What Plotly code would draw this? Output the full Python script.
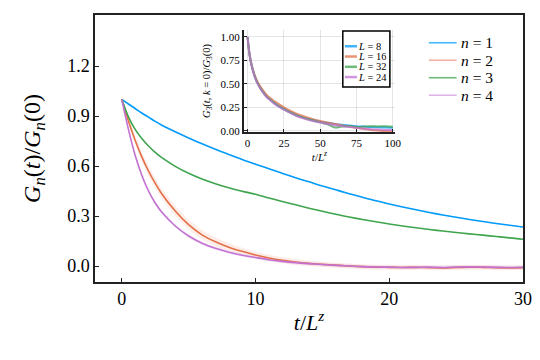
import plotly.graph_objects as go

# main panel: G_n(t)/G_n(0) vs t/L^z
t_main = [0, 0.5, 1, 1.5, 2, 2.5, 3, 4, 5, 6, 7, 8, 9, 10, 11, 12, 13, 14, 15,
          16, 17, 18, 19, 20, 21, 22, 23, 24, 25, 26, 27, 28, 29, 30]
g_n1 = [1.0, 0.972, 0.945, 0.918, 0.893, 0.868, 0.845, 0.805, 0.768, 0.733, 0.700,
        0.669, 0.639, 0.611, 0.584, 0.557, 0.530, 0.505, 0.480, 0.457, 0.434, 0.412,
        0.391, 0.372, 0.354, 0.337, 0.321, 0.306, 0.292, 0.279, 0.267, 0.255, 0.244, 0.234]
g_n2 = [1.0, 0.87, 0.755, 0.655, 0.57, 0.497, 0.432, 0.33, 0.248, 0.187, 0.145, 0.113,
        0.088, 0.066, 0.048, 0.034, 0.024, 0.016, 0.010, 0.005, 0.0, -0.004, -0.007,
        -0.008, -0.009, -0.008, -0.010, -0.011, -0.009, -0.007, -0.008, -0.010, -0.011, -0.010]
g_n3 = [1.0, 0.895, 0.82, 0.765, 0.72, 0.682, 0.65, 0.598, 0.556, 0.522, 0.494, 0.47,
        0.449, 0.43, 0.408, 0.387, 0.367, 0.347, 0.328, 0.31, 0.294, 0.279, 0.265, 0.252,
        0.24, 0.229, 0.219, 0.21, 0.201, 0.193, 0.185, 0.177, 0.169, 0.16]
g_n4 = [1.0, 0.82, 0.665, 0.545, 0.45, 0.378, 0.322, 0.24, 0.18, 0.137, 0.106, 0.083,
        0.065, 0.051, 0.038, 0.028, 0.020, 0.014, 0.009, 0.004, 0.0, -0.004, -0.006,
        -0.007, -0.009, -0.008, -0.007, -0.009, -0.006, -0.005, -0.006, -0.008, -0.009, -0.008]
err_n2 = [0.0, 0.02, 0.025, 0.03, 0.03, 0.03, 0.03, 0.03, 0.03, 0.028, 0.026, 0.024,
          0.022, 0.02, 0.02, 0.018, 0.018, 0.016, 0.016, 0.015, 0.015, 0.015, 0.015,
          0.015, 0.015, 0.015, 0.015, 0.015, 0.015, 0.015, 0.015, 0.015, 0.015, 0.015]
err_n4 = [0.0, 0.012, 0.012, 0.012, 0.012, 0.012, 0.012, 0.01, 0.01, 0.01, 0.01, 0.01,
          0.01, 0.01, 0.01, 0.01, 0.01, 0.01, 0.01, 0.01, 0.01, 0.01, 0.01, 0.01,
          0.01, 0.01, 0.01, 0.01, 0.01, 0.01, 0.01, 0.01, 0.01, 0.01]
n_labels = ["<i>n</i> = 1", "<i>n</i> = 2", "<i>n</i> = 3", "<i>n</i> = 4"]

# inset: G_3(t, k=0)/G_3(0) for several L
t_ins = [0, 1, 2, 3, 4, 6, 8, 10, 13, 16, 20, 25, 30, 35, 40, 45, 50, 55, 60, 65,
         70, 75, 80, 85, 90, 95, 100]
g_L8 = [1.0, 0.86, 0.76, 0.69, 0.63, 0.54, 0.48, 0.43, 0.37, 0.33, 0.28, 0.235, 0.195,
        0.16, 0.135, 0.115, 0.098, 0.085, 0.073, 0.064, 0.057, 0.05, 0.045, 0.04, 0.037,
        0.036, 0.034]
g_L16 = [1.0, 0.86, 0.76, 0.69, 0.635, 0.55, 0.49, 0.445, 0.385, 0.345, 0.30, 0.25,
         0.21, 0.175, 0.148, 0.125, 0.105, 0.088, 0.072, 0.058, 0.045, 0.032, 0.02,
         0.01, 0.003, -0.003, -0.005]
g_L32 = [1.0, 0.85, 0.75, 0.68, 0.625, 0.535, 0.475, 0.425, 0.365, 0.325, 0.275, 0.23,
         0.19, 0.155, 0.13, 0.11, 0.09, 0.07, 0.035, 0.045, 0.05, 0.042, 0.045, 0.05,
         0.047, 0.05, 0.043]
g_L24 = [1.0, 0.85, 0.75, 0.68, 0.62, 0.53, 0.47, 0.42, 0.36, 0.32, 0.27, 0.225, 0.185,
         0.15, 0.125, 0.105, 0.088, 0.073, 0.06, 0.05, 0.04, 0.032, 0.025, 0.018, 0.013,
         0.01, 0.008]
L_labels = ["<i>L</i> = 8", "<i>L</i> = 16", "<i>L</i> = 32", "<i>L</i> = 24"]

colors = ["#009AFA", "#E36F47", "#3EA44E", "#C371D2"]
legend_cols = ["#47B8FB", "#F2B3A0", "#6DBB78", "#DDB3E6"]  # legend samples look lighter
font = "Liberation Serif"

fig = go.Figure()

# ribbons for n = 2 and n = 4
for g, e, c in [(g_n2, err_n2, "rgba(227,111,71,0.12)"), (g_n4, err_n4, "rgba(195,113,210,0.12)")]:
    upper = [a + b for a, b in zip(g, e)]
    lower = [a - b for a, b in zip(g, e)]
    fig.add_trace(go.Scatter(x=t_main + t_main[::-1], y=upper + lower[::-1],
                             fill='toself', fillcolor=c, mode='none',
                             showlegend=False, hoverinfo='skip'))

for g, c, lab in zip([g_n1, g_n2, g_n3, g_n4], colors, n_labels):
    fig.add_trace(go.Scatter(x=t_main, y=g, mode='lines', name=lab,
                             line=dict(color=c, width=1.6, shape='spline'), showlegend=False))

for g, c, lab in zip([g_L8, g_L16, g_L32, g_L24], colors, L_labels):
    fig.add_trace(go.Scatter(x=t_ins, y=g, mode='lines', xaxis='x2', yaxis='y2', name=lab,
                             line=dict(color=c, width=2, shape='spline'), opacity=0.75,
                             showlegend=False))

# legends drawn by hand (plotly's own legend rows are too tall here)
# main legend, no frame
for i, (lab, c) in enumerate(zip(n_labels, legend_cols)):
    yy = 0.896 - i * 0.0655
    fig.add_shape(type='line', xref='paper', yref='paper', x0=0.780, x1=0.845, y0=yy, y1=yy,
                  line=dict(color=c, width=1.6))
    fig.add_annotation(x=0.853, y=yy, xref='paper', yref='paper', text=lab, showarrow=False,
                       xanchor='left', yanchor='middle', font=dict(size=15.5),
                       height=15, borderpad=0)

# inset legend, framed
fig.add_shape(type='rect', xref='paper', yref='paper', x0=0.579, x1=0.689, y0=0.730, y1=0.940,
              line=dict(color='black', width=1.5), fillcolor='white')
for i, (lab, c) in enumerate(zip(L_labels, colors)):
    yy = 0.883 - i * 0.0385
    fig.add_shape(type='line', xref='paper', yref='paper', x0=0.584, x1=0.612, y0=yy, y1=yy,
                  line=dict(color=c, width=2.5), opacity=0.75)
    fig.add_annotation(x=0.612, y=yy, xref='paper', yref='paper', text=lab, showarrow=False,
                       xanchor='left', yanchor='middle', font=dict(size=10.5),
                       height=9, borderpad=0)

axis_common = dict(showline=True, linecolor='#222', ticks='inside', tickcolor='#222',
                   showgrid=False, zeroline=False, automargin=False)

fig.update_layout(
    width=540, height=360,
    margin=dict(l=95, r=17, t=15, b=78),
    plot_bgcolor='white', paper_bgcolor='white',
    font=dict(family=font, color='black'),
    showlegend=False,
    xaxis=dict(axis_common, range=[-2, 30], tickvals=[0, 10, 20, 30], mirror=True,
               linewidth=1.5, ticklen=4, tickfont=dict(size=18),
               title=dict(text="<i>t</i>/<i>L</i><sup><i>z</i></sup>", font=dict(size=22), standoff=6)),
    yaxis=dict(axis_common, range=[-0.096, 1.506], tickvals=[0, 0.3, 0.6, 0.9, 1.2],
               tickformat='.1f', mirror=True, linewidth=1.5, ticklen=4, tickfont=dict(size=18),
               title=dict(text="<i>G</i><sub><i>n</i></sub>(<i>t</i>)/<i>G</i><sub><i>n</i></sub>(0)",
                          font=dict(size=24), standoff=20)),
    xaxis2=dict(axis_common, domain=[0.348, 0.701], anchor='y2', range=[-2.5, 101.5],
                tickvals=[0, 25, 50, 75, 100], linewidth=2, ticklen=3,
                showgrid=True, gridcolor='rgba(0,0,0,0.1)', gridwidth=0.5,
                tickfont=dict(size=11),
                title=dict(text="<i>t</i>/<i>L</i><sup><i>z</i></sup>", font=dict(size=11), standoff=0)),
    yaxis2=dict(axis_common, domain=[0.562, 0.944], anchor='x2', range=[-0.012, 1.075],
                tickvals=[0, 0.25, 0.5, 0.75, 1.0], tickformat='.2f', linewidth=2, ticklen=3,
                showgrid=True, gridcolor='rgba(0,0,0,0.1)', gridwidth=0.5,
                tickfont=dict(size=11),
                title=dict(text="<i>G</i><sub>3</sub>(<i>t</i>, <i>k</i> = 0)/<i>G</i><sub>3</sub>(0)",
                           font=dict(size=10.5), standoff=8)),
)

fig.write_html("out.html", config={'displayModeBar': False},
               post_script="document.body.style.margin='0';")
